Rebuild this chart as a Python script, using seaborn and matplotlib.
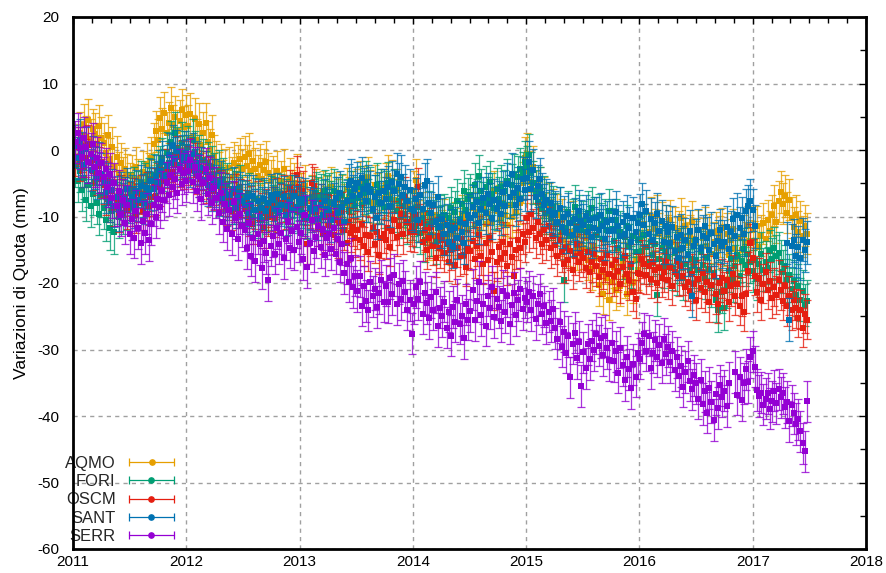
import numpy as np
import pandas as pd
import matplotlib
matplotlib.use("Agg")
import matplotlib.pyplot as plt
import seaborn as sns
from matplotlib.lines import Line2D
from matplotlib.legend_handler import HandlerBase
from matplotlib.ticker import MultipleLocator

nan = float("nan")

# Weekly height variations (mm) for each GNSS station, first sample 2011-01-08.
# One row per quarter (13 weeks).
aqmo = [
    -1.5, 0.8, 2.6, 1.2, 3.8, 2.0, 4.5, 1.6, 3.1, 2.4, 0.9, 3.6, 1.8,
    1.0, -0.5, 2.2, -1.3, 0.4, -2.6, -1.0, -3.4, -2.0, -4.2, -2.8, -3.7, -5.1,
    -3.8, -5.5, -2.6, -4.4, -6.2, -3.3, -4.8, -2.1, -3.6, -1.2, 0.9, 2.8, 1.5,
    4.8, 3.2, 5.6, 2.6, 4.1, 6.3, 3.7, 5.0, 2.9, 4.4, 6.0, 3.5, 5.2,
    3.6, 5.4, 2.1, 4.7, 1.5, 3.9, 0.8, 2.6, 4.0, 1.2, 0.0, 2.2, -0.9,
    -1.8, -3.4, -2.2, -4.6, -3.0, -5.3, -2.7, -4.1, -1.9, -3.6, -2.4, -1.3, -2.9,
    -1.0, -2.4, -0.6, -3.1, -1.7, -2.8, -3.9, -2.2, -4.3, -3.0, -1.8, -3.5, -4.6,
    -4.0, -5.8, -3.2, -6.4, -4.7, -2.9, -5.5, -7.0, -4.3, -6.1, -5.0, -3.7, -6.6,
    -6.5, -8.2, -5.4, -7.6, -9.3, -6.8, -8.0, -5.9, -7.3, -9.1, -6.2, -8.5, -7.0,
    -7.8, -5.6, -8.9, -6.4, -7.5, -9.6, -6.9, -8.2, -5.8, -7.1, -8.6, -6.3, -7.7,
    -6.0, -4.8, -7.4, -5.5, -6.7, -4.2, -6.1, -7.9, -5.3, -6.6, -8.1, -5.9, -7.2,
    -5.1, -3.9, -6.8, -4.6, -7.5, -6.0, -8.3, -9.4, -7.2, -10.1, -8.6, -10.8, -9.0,
    -6.2, -4.5, -8.1, -10.6, -9.4, -12.3, -11.0, -13.5, -10.2, -12.8, -9.7, -11.6, -13.0,
    -12.1, -10.5, -13.6, -11.4, -14.2, -12.7, -10.9, -13.1, -11.8, -9.8, -12.4, -10.6, -11.9,
    -10.3, -8.7, -11.5, -9.4, -12.0, -10.1, -8.9, -11.2, -9.6, -7.5, -10.8, -6.2, -9.1,
    -8.4, -10.6, -7.9, -9.8, -11.3, -8.2, -10.0, -7.1, -9.3, -6.4, -8.0, -4.9, -1.2,
    -0.6, -3.2, -4.8, -2.5, -6.3, -7.9, -5.6, -8.8, -7.2, -9.6, -8.1, -10.4, -9.0,
    -11.2, -9.7, -12.8, -10.5, -13.6, -11.9, -14.4, -12.3, -10.8, -13.1, -15.0, -12.6, -14.1,
    -14.8, -13.2, -16.5, -15.1, -17.9, -14.6, -16.2, -20.3, -18.4, -21.6, -17.0, -19.2, -22.5,
    -19.8, -17.6, -21.0, -18.3, -20.4, -16.9, -19.1, -21.7, -18.6, -17.2, -19.9, -16.4, -18.0,
    -15.3, -13.0, -11.2, -14.6, -12.4, -10.1, -13.7, -11.9, -9.8, -12.6, -10.9, -13.5, -11.4,
    -12.8, -10.6, -13.9, -11.7, -14.5, -12.2, -10.3, -13.1, -11.5, -14.0, -12.9, -10.8, -13.4,
    -13.8, -12.1, -15.0, -13.3, -11.6, -14.4, -12.7, -15.6, -13.9, -12.4, -14.8, -13.0, -11.8,
    -14.3, -12.6, -15.8, -13.5, -11.9, -14.9, -16.4, -13.2, -15.1, -12.8, -14.0, -11.5, -13.7,
    -12.0, -13.8, -11.5, -14.6, -12.9, -11.0, -13.4, -10.6, -12.2, -9.8, -8.4, -10.9, -7.7,
    -6.3, -8.1, -6.9, -9.4, -7.5, -10.2, -11.6, -9.8, -12.3, -10.7, -13.0, -11.4, -12.6,
]

fori = [
    -2.4, -4.6, -3.1, -6.0, -4.2, -7.5, -5.3, -8.4, -6.6, -4.9, -7.9, -9.6, -6.8,
    -8.7, -10.5, -7.3, -11.8, -9.2, -12.4, -8.0, -10.1, -6.9, -9.4, -7.7, -8.9, -6.5,
    -7.4, -5.8, -8.2, -6.3, -4.9, -7.0, -5.2, -6.7, -4.4, -5.9, -3.8, -5.0, -3.2,
    -2.6, -1.4, -3.0, -0.5, -1.9, 1.2, -0.8, 2.5, 0.3, -1.1, 1.0, -0.4, -1.6,
    0.4, -1.2, 1.5, -0.3, -2.1, -0.9, -2.8, -1.5, -3.3, -2.0, -4.1, -2.6, -3.7,
    -4.5, -3.2, -5.8, -4.4, -6.7, -5.1, -7.3, -5.9, -8.0, -6.4, -7.6, -5.5, -6.9,
    -7.8, -9.2, -6.6, -8.5, -10.1, -7.4, -9.0, -8.1, -10.6, -7.7, -9.5, -8.8, -7.1,
    -8.4, -7.2, -9.1, -8.0, -6.8, -8.9, -7.5, -9.6, -8.3, -7.0, -8.7, -9.3, -7.9,
    -8.6, -9.8, -7.9, -10.2, -8.8, -7.1, -7.6, -6.5, -7.3, -6.8, -7.7, -6.2, -7.0,
    -6.7, -7.9, -6.1, -8.6, -7.2, -9.3, -6.8, -8.0, -7.5, -9.1, -6.4, -7.7, -8.4,
    -7.2, -5.6, -8.3, -6.4, -4.9, -7.6, -5.8, -9.0, -6.9, -5.2, -7.8, -6.1, -8.5,
    -6.3, -5.0, -7.4, -8.6, -6.0, -9.2, -7.7, -10.1, -8.4, -9.6, -11.0, -8.9, -10.4,
    -9.7, -11.4, -8.6, -12.5, -10.3, -13.6, -11.1, -9.4, -12.8, -10.7, -13.9, -11.8, -10.0,
    -11.5, -9.8, -12.6, -10.2, -8.7, -11.1, -9.3, -7.6, -10.4, -8.1, -6.2, -9.0, -7.4,
    -6.8, -8.3, -5.2, -7.5, -3.9, -6.1, -8.0, -5.6, -7.2, -4.8, -6.6, -8.7, -5.9,
    -7.3, -5.5, -8.1, -6.2, -4.6, -7.0, -5.3, -3.8, -6.4, -4.1, -2.9, -3.5, -1.8,
    -2.6, -0.8, -3.5, -4.9, -6.2, -7.8, -5.7, -8.9, -7.1, -9.5, -8.0, -10.3, -8.6,
    -9.7, -11.2, -8.8, -12.4, -19.6, -11.8, -9.3, -12.9, -10.6, -8.5, -11.4, -9.9, -12.0,
    -10.8, -12.3, -9.4, -11.6, -8.7, -10.2, -12.8, -9.8, -11.1, -13.4, -10.5, -12.0, -9.1,
    -11.9, -13.7, -10.6, -14.8, -12.4, -16.2, -13.1, -11.5, -14.4, -17.6, -12.9, -15.3, -13.6,
    -13.5, -15.2, -12.8, -14.6, -16.9, -13.9, -15.8, -14.1, -21.8, -16.4, -14.7, -17.5, -15.3,
    -16.1, -14.4, -17.8, -15.5, -18.6, -16.8, -14.9, -19.3, -17.2, -15.7, -18.1, -16.4, -17.5,
    -16.6, -18.0, -15.4, -17.3, -19.2, -16.1, -17.9, -20.4, -18.5, -22.6, -24.1, -19.7, -21.3,
    -23.8, -20.5, -18.2, -16.4, -19.6, -17.5, -15.8, -18.9, -16.7, -14.9, -17.3, -15.6, -16.8,
    -18.2, -16.5, -19.4, -17.1, -15.6, -18.0, -16.9, -17.8, -15.2, -16.4, -14.8, -16.0, -15.5,
    -16.8, -18.3, -17.5, -19.6, -18.8, -20.9, -19.7, -21.8, -20.4, -22.5, -21.2, -23.3, -22.7,
]

oscm = [
    -1.0, 0.5, -1.8, -0.4, -2.6, -1.2, 0.8, -2.0, -3.1, -1.5, -3.8, -2.4, -4.3,
    -5.2, -6.8, -4.7, -7.9, -6.1, -8.6, -7.3, -9.4, -6.6, -8.2, -7.0, -9.0, -7.7,
    -8.5, -7.1, -9.6, -8.0, -6.7, -9.1, -7.8, -6.2, -8.4, -7.0, -5.6, -6.9, -4.8,
    -5.5, -3.6, -4.7, -2.8, -4.0, -1.9, -3.3, -2.2, -0.8, -2.6, -1.4, -3.0, -1.6,
    -2.3, -1.1, -3.0, -1.8, -3.7, -2.5, -4.4, -3.1, -5.0, -3.8, -5.6, -4.2, -6.1,
    -5.4, -6.9, -5.9, -7.6, -6.3, -8.4, -7.0, -9.1, -7.7, -6.5, -8.8, -7.2, -8.0,
    -8.9, -7.4, -10.1, -8.3, -11.2, -9.0, -7.6, -10.6, -9.4, -11.8, -8.7, -10.0, -9.3,
    -8.4, -10.2, -7.1, -9.5, -8.0, -6.6, -9.0, -7.5, -5.9, -8.2, -6.4, -3.8, -5.5,
    -7.6, -6.1, -10.4, -14.2, -8.8, -5.0, -5.4, -9.3, -11.6, -8.0, -12.7, -10.1, -9.5,
    -11.3, -9.6, -12.8, -10.5, -13.4, -11.0, -9.2, -12.1, -14.0, -10.8, -12.5, -11.6, -13.2,
    -12.0, -13.6, -11.2, -14.5, -12.8, -15.3, -13.0, -11.7, -14.1, -12.4, -15.8, -13.3, -12.6,
    -13.5, -11.8, -14.6, -12.2, -10.6, -13.1, -11.4, -9.6, -12.7, -7.0, -10.9, -12.3, -11.5,
    -12.4, -9.7, -5.6, -11.0, -13.8, -12.1, -15.0, -13.3, -11.6, -14.4, -16.2, -12.9, -14.8,
    -13.6, -15.5, -14.2, -16.8, -15.1, -13.9, -17.3, -14.7, -16.0, -13.4, -15.8, -17.6, -14.9,
    -15.2, -13.7, -16.4, -14.5, -12.8, -15.9, -17.2, -14.0, -16.6, -13.3, -15.4, -21.2, -16.8,
    -14.6, -16.3, -13.8, -15.5, -17.4, -14.2, -16.1, -18.9, -15.0, -13.6, -14.8, -12.7, -13.9,
    -10.2, -12.4, -9.6, -11.8, -13.3, -10.9, -12.7, -14.1, -12.0, -13.6, -11.4, -14.8, -13.0,
    -14.3, -16.0, -13.6, -15.4, -17.1, -14.8, -16.6, -15.2, -18.0, -15.9, -14.1, -16.8, -15.5,
    -16.2, -17.8, -15.3, -18.4, -16.9, -15.6, -17.5, -19.1, -16.4, -18.0, -17.0, -15.8, -18.6,
    -17.3, -19.0, -16.5, -18.2, -20.1, -17.6, -16.0, -18.7, -19.6, -17.1, -21.3, -22.4, -18.5,
    -18.6, -16.4, -17.2, -18.8, -17.5, -19.4, -16.9, -18.1, -20.0, -17.7, -19.2, -18.4, -16.8,
    -19.5, -17.6, -20.4, -18.3, -16.7, -19.0, -17.4, -18.9, -20.6, -19.8, -21.2, -18.6, -20.1,
    -22.6, -19.4, -20.8, -18.5, -21.4, -19.9, -22.9, -20.3, -18.9, -21.7, -23.1, -20.0, -19.3,
    -21.2, -19.6, -22.8, -20.5, -18.7, -21.9, -20.1, -23.4, -22.0, -24.3, -21.6, -18.2, -14.0,
    -16.3, -18.9, -21.4, -19.2, -22.6, -20.1, -18.4, -21.0, -19.7, -22.3, -20.6, -21.8, -19.5,
    -21.1, -22.7, -20.4, -23.5, -21.9, -24.1, -22.6, -23.8, -25.2, -24.0, -26.7, -24.6, -25.5,
]

sant = [
    0.6, -1.2, 1.4, -0.5, -2.3, 0.2, -1.8, -3.0, -1.1, -2.7, -4.2, -2.0, -3.6,
    -4.8, -6.3, -5.1, -7.6, -6.0, -8.4, -7.1, -9.0, -6.5, -8.1, -7.3, -5.9, -7.8,
    -7.0, -8.6, -6.2, -7.5, -5.4, -6.8, -8.0, -5.7, -6.4, -4.6, -5.8, -3.9, -4.9,
    -3.2, -1.8, -3.9, -2.4, -0.7, -2.0, 0.6, -1.3, -0.2, -2.2, -0.9, -1.7, -0.4,
    -1.0, -2.4, -0.6, -3.1, -1.9, -3.8, -2.7, -4.5, -3.3, -5.2, -4.0, -5.9, -4.6,
    -5.4, -6.7, -4.9, -7.3, -6.1, -8.2, -6.8, -7.9, -5.8, -8.6, -7.2, -6.5, -7.7,
    -8.3, -7.0, -9.4, -8.1, -6.9, -9.0, -7.6, -10.0, -8.7, -7.4, -9.2, -8.0, -6.8,
    -7.5, -8.8, -6.6, -9.3, -8.2, -7.1, -9.7, -8.4, -7.8, -9.0, -6.9, -8.6, -7.3,
    -8.0, -9.5, -7.4, -10.1, -8.7, -9.2, -7.8, -8.9, -10.4, -8.3, -9.7, -7.6, -8.8,
    -9.0, -10.6, -8.1, -7.2, -9.5, -6.4, -8.6, -10.9, -7.7, -5.3, -4.6, -6.9, -5.8,
    -5.0, -6.7, -4.2, -5.9, -7.6, -5.4, -6.3, -8.8, -7.0, -10.2, -6.5, -7.9, -6.1,
    -7.3, -5.6, -8.4, -4.8, -6.2, -3.6, -5.1, -4.0, -6.8, -5.5, -7.7, -6.0, -8.9,
    -9.1, -7.4, -10.6, -6.8, -8.9, -5.2, -4.6, -7.9, -9.5, -8.2, -10.8, -7.1, -11.6,
    -10.4, -12.6, -11.3, -13.8, -12.0, -14.5, -11.7, -13.2, -10.9, -12.4, -14.0, -11.1, -9.8,
    -10.3, -8.5, -9.7, -7.8, -11.0, -8.9, -7.2, -9.4, -6.6, -8.1, -10.2, -7.5, -8.8,
    -7.9, -9.6, -6.3, -8.4, -5.1, -7.0, -3.6, -6.5, -8.2, -5.7, -7.4, -4.3, -6.0,
    -4.2, -1.8, -5.9, -3.0, -7.1, -5.4, -4.4, -6.6, -8.3, -7.5, -9.2, -8.0, -9.8,
    -9.4, -10.8, -8.7, -11.6, -10.1, -12.3, -9.6, -11.0, -12.8, -10.4, -11.9, -9.2, -10.7,
    -11.3, -9.9, -12.4, -10.6, -13.1, -11.8, -10.2, -12.0, -9.7, -11.5, -13.4, -10.9, -12.2,
    -10.5, -12.1, -9.3, -11.4, -13.0, -10.8, -12.6, -9.9, -11.7, -13.8, -10.3, -12.3, -11.0,
    -9.8, -8.1, -11.3, -9.2, -12.6, -10.4, -13.5, -11.0, -9.6, -12.2, -10.7, -13.9, -11.5,
    -12.4, -14.0, -11.6, -15.2, -13.1, -16.3, -12.8, -14.7, -13.5, -15.8, -12.2, -21.9, -14.4,
    -13.6, -12.0, -14.8, -12.9, -11.4, -13.3, -15.1, -12.5, -14.2, -16.0, -13.7, -12.1, -14.5,
    -13.8, -11.6, -14.9, -12.3, -10.4, -13.0, -9.7, -11.8, -10.2, -12.7, -9.1, -8.4, -7.6,
    -9.0, -11.5, nan, nan, nan, nan, nan, nan, nan, nan, nan, nan, nan,
    nan, nan, nan, -14.0, -25.5, -14.4, -13.6, -15.9, -14.6, -16.3, -13.5, -15.1, -13.9,
]

serr = [
    1.2, 2.5, 0.3, -1.0, 1.8, 0.5, -1.8, -0.6, 0.9, -2.5, -1.2, -3.4, -2.0,
    -4.1, -2.8, -5.5, -3.6, -7.2, -5.0, -8.4, -6.1, -9.8, -7.5, -11.0, -8.3, -12.6,
    -10.4, -13.2, -9.1, -11.8, -14.0, -10.7, -12.5, -9.6, -13.6, -11.2, -8.3, -10.1, -7.4,
    -8.6, -6.2, -7.5, -4.9, -6.8, -3.8, -5.6, -4.3, -6.4, -2.9, -5.1, -3.5, -4.7,
    -3.2, -1.5, -4.8, -2.6, -6.1, -3.9, -7.4, -5.0, -2.8, -6.6, -4.2, -8.0, -5.7,
    -7.2, -9.5, -6.4, -10.8, -8.1, -11.9, -9.0, -12.7, -7.8, -10.3, -13.4, -9.6, -11.5,
    -12.1, -14.8, -11.0, -15.9, -13.3, -16.7, -12.6, -14.2, -17.8, -13.7, -15.5, -19.6, -14.4,
    -13.0, -15.6, -11.8, -14.1, -12.5, -16.3, -13.4, -10.9, -14.7, -12.2, -15.0, -11.6, -13.8,
    -12.5, -16.4, -9.8, -17.6, -14.0, -10.6, -15.2, -13.1, -11.4, -14.6, -12.0, -15.8, -13.3,
    -12.7, -14.9, -11.8, -15.6, -13.4, -16.8, -14.2, -18.5, -17.1, -19.8, -16.3, -20.6, -18.9,
    -21.2, -19.0, -23.4, -20.5, -22.7, -24.1, -19.8, -22.0, -20.9, -23.6, -21.5, -19.6, -22.8,
    -20.4, -22.9, -19.3, -21.7, -18.8, -23.2, -20.1, -22.4, -19.7, -21.3, -24.0, -22.6, -27.6,
    -23.1, -20.6, -22.4, -19.8, -24.6, -21.5, -23.0, -25.3, -22.1, -24.0, -21.4, -26.5, -23.7,
    -25.0, -22.8, -26.7, -24.3, -27.9, -23.6, -25.8, -22.5, -26.1, -24.9, -28.3, -23.2, -25.5,
    -24.2, -21.0, -25.6, -22.7, -19.8, -24.8, -23.1, -26.4, -21.9, -23.8, -20.6, -25.1, -22.4,
    -23.6, -25.7, -21.2, -24.4, -22.0, -26.1, -23.3, -21.5, -24.8, -22.6, -20.9, -23.9, -22.2,
    -22.8, -21.3, -24.1, -22.0, -25.4, -23.2, -21.7, -24.6, -23.5, -26.0, -24.3, -25.7, -23.9,
    -26.8, -28.4, -25.9, -29.6, -27.3, -30.5, -28.0, -34.2, -29.1, -27.5, -31.3, -28.8, -35.5,
    -30.4, -32.8, -29.2, -31.5, -28.7, -30.1, -27.6, -29.4, -28.2, -30.9, -27.9, -29.8, -31.6,
    -29.0, -31.8, -30.3, -33.5, -29.7, -32.4, -34.6, -31.1, -33.0, -35.8, -32.2, -34.1, -30.6,
    -31.4, -29.0, -27.6, -30.2, -27.9, -32.8, -30.5, -28.6, -31.1, -29.3, -32.0, -28.4, -30.7,
    -29.6, -31.9, -30.3, -33.1, -31.2, -34.0, -32.5, -35.6, -33.4, -31.8, -34.7, -36.0, -33.9,
    -35.1, -37.4, -34.6, -38.2, -36.3, -39.5, -35.8, -37.9, -40.6, -36.7, -38.8, -35.4, -37.1,
    -36.2, -38.5, -35.0, nan, nan, -33.4, -36.8, -34.2, -37.6, -35.1, -33.0, -34.9, -31.2,
    -30.3, -32.6, -36.1, -37.0, -36.5, -38.3, -37.4, -36.6, -38.9, -37.8, -36.2, -38.1, -36.0,
    -37.2, -36.6, -38.7, -37.9, -40.8, -38.4, -39.6, -41.2, -40.5, -42.3, -44.1, -45.3, -37.8,
]

stations = ["AQMO", "FORI", "OSCM", "SANT", "SERR"]
series = [aqmo, fori, oscm, sant, serr]
sigmas = [3.1, 3.2, 2.9, 3.2, 3.1]          # 1-sigma error bar (mm)
colors = ["#e69f00", "#009e73", "#e51e10", "#0072b2", "#9400d3"]

year_ticks = list(range(2011, 2019))


def decimal_years(n):
    d = pd.date_range("2011-01-08", periods=n, freq="7D")
    return d.year + (d.dayofyear - 0.5) / (365 + d.is_leap_year.astype(int))


class ErrorbarKey(HandlerBase):
    """Legend key: horizontal bar with end caps and a dot in the middle."""

    def create_artists(self, legend, orig_handle, xdescent, ydescent,
                       width, height, fontsize, trans):
        c = orig_handle.get_color()
        y = height / 2 - ydescent
        x0, x1 = -xdescent, width - xdescent
        bar = Line2D([x0, x1], [y, y], color=c, lw=0.9, transform=trans)
        caps = Line2D([x0, x1], [y, y], ls="none", marker="|", ms=6,
                      mew=0.9, color=c, transform=trans)
        dot = Line2D([(x0 + x1) / 2], [y], ls="none", marker="o", ms=3.8,
                     color=c, transform=trans)
        return [bar, caps, dot]


sns.set_theme(style="white")
plt.rcParams["font.family"] = ["Liberation Sans", "DejaVu Sans"]
plt.rcParams["axes.unicode_minus"] = False

fig = plt.figure(figsize=(8.86, 5.73), dpi=100)
ax = fig.add_axes([73 / 886, 24 / 573, 793 / 886, 532 / 573])

for k, (name, vals, err, col) in enumerate(zip(stations, series, sigmas, colors)):
    df = pd.DataFrame({"anno": decimal_years(len(vals)), "quota": vals})
    ax.errorbar(df["anno"], df["quota"], yerr=err, fmt="none", ecolor=col,
                elinewidth=0.9, capsize=2.8, capthick=0.9, alpha=0.8,
                zorder=3 + 2 * k)
    sns.scatterplot(data=df, x="anno", y="quota", ax=ax, color=col, marker="s",
                    s=17, linewidth=0, legend=False, zorder=4 + 2 * k)

ax.set_xlim(2011, 2018)
ax.set_ylim(-60, 20)
ax.set_xticks(year_ticks, [str(y) for y in year_ticks])
ax.xaxis.set_minor_locator(MultipleLocator(1 / 6))
ax.yaxis.set_major_locator(MultipleLocator(10))
ax.yaxis.set_minor_locator(MultipleLocator(5))

ax.grid(True, which="major", color="#a0a0a0", lw=1.0, ls=(0, (3, 3)))
ax.set_axisbelow(True)
for sp in ax.spines.values():
    sp.set_color("black")
    sp.set_linewidth(2.0)
    sp.set_zorder(20)

ax.tick_params(which="both", direction="in", top=True, right=True,
               color="black", width=1.0, labelsize=11, labelcolor="black")
ax.tick_params(which="major", length=5)
ax.tick_params(which="minor", length=4)
ax.tick_params(axis="y", which="major", pad=10)
ax.tick_params(axis="x", which="major", pad=4)
ax.set_xlabel("")
ax.set_ylabel("Variazioni di Quota (mm)", fontsize=12.5, color="black", labelpad=6)

handles = [Line2D([], [], color=c) for c in colors]
ax.legend(handles, stations, handler_map={Line2D: ErrorbarKey()},
          loc="lower right", bbox_to_anchor=(174 / 886, 29 / 573),
          bbox_transform=fig.transFigure, markerfirst=False, frameon=False,
          fontsize=12, handlelength=2.7, handletextpad=0.8, labelspacing=0.2,
          borderpad=0, borderaxespad=0)

fig.savefig("out.png", dpi=100, facecolor="white")
